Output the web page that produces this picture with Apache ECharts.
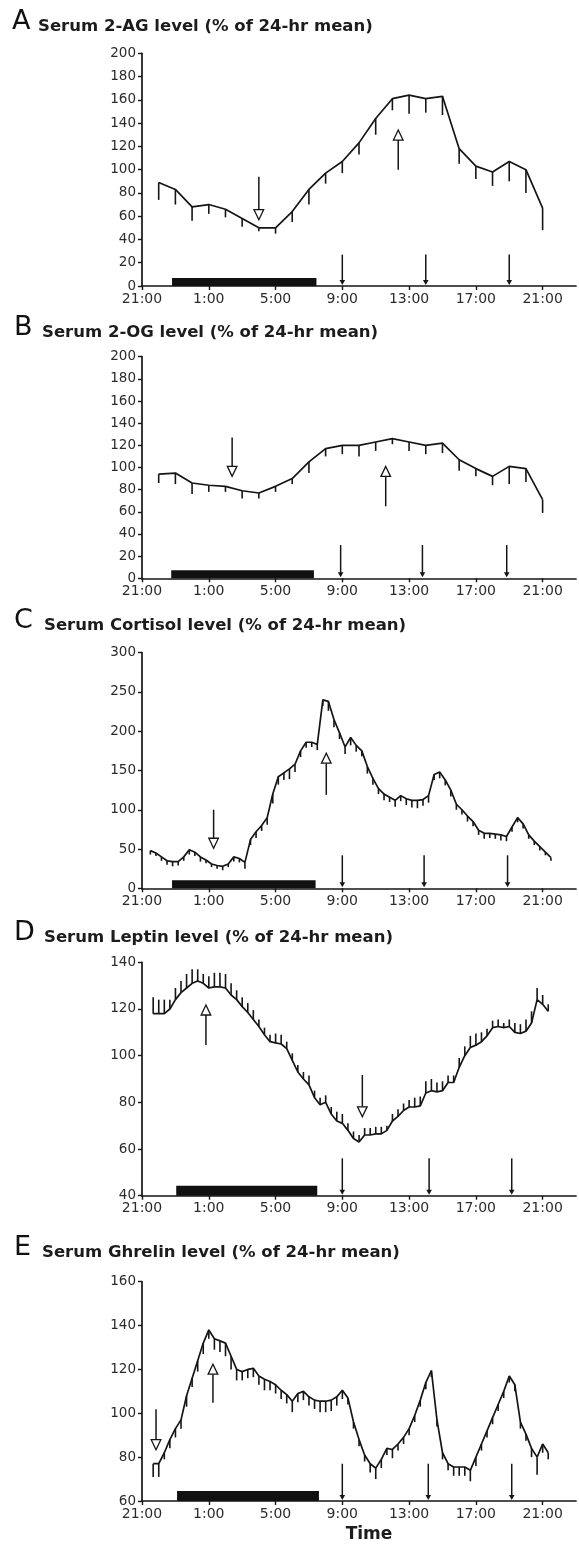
<!DOCTYPE html>
<html>
<head>
<meta charset="utf-8">
<script src="https://cdn.jsdelivr.net/npm/echarts@6/dist/echarts.min.js"></script>
<style>
  html, body { margin: 0; padding: 0; background: #ffffff; }
  #chart { width: 579px; height: 1547px; }
</style>
</head>
<body>
<div id="chart"></div>
<script>
// Time axis in hours after 21:00 on day 1 (24 = 21:00 on day 2)
const hourTicks = [0, 4, 8, 12, 16, 20, 24];
const clockLabels = ['21:00', '1:00', '5:00', '9:00', '13:00', '17:00', '21:00'];

// Hourly draws, 22:00 through 21:00
const hourlyTimes = [1, 2, 3, 4, 5, 6, 7, 8, 9, 10, 11, 12, 13, 14, 15, 16, 17, 18, 19, 20, 21, 22, 23, 24];

// A: 2-AG (% of 24-hr mean) and SEM
const agMean = [89, 83, 68, 70, 66, 58, 50, 50, 64, 83, 97, 107, 123, 144, 161, 164, 161, 163, 118, 103, 98, 107, 100, 67];
const agSem  = [15, 13, 12, 8, 7, 7, 3, 5, 9, 13, 9, 10, 10, 14, 10, 16, 12, 16, 13, 11, 12, 17, 20, 19];

// B: 2-OG
const ogMean = [94, 95, 86, 84, 83, 79, 77, 83, 90, 105, 117, 120, 120, 123, 126, 123, 120, 122, 107, 99, 92, 101, 99, 71];
const ogSem  = [8, 10, 10, 6, 5, 7, 5, 5, 5, 10, 7, 8, 10, 8, 5, 8, 8, 9, 10, 7, 8, 16, 12, 12];

// 20-minute draws: first sample time (hours after 21:00)
const cortisolStart = 0.5;
const leptinStart = 0.67;
const ghrelinStart = 0.67;

// C: cortisol
const cortisolMean = [48, 45, 40, 35, 34, 34, 40, 49, 46, 40, 36, 31, 29, 28, 31, 40, 38, 33, 62, 72,
  80, 90, 120, 142, 147, 152, 158, 175, 186, 186, 183, 240, 238, 215, 198, 180, 192, 182, 175, 155,
  140, 127, 120, 116, 112, 118, 114, 112, 112, 113, 118, 145, 148, 138, 125, 107, 100, 92, 85, 74,
  70, 70, 69, 68, 66, 78, 90, 82, 68, 60, 53, 46, 39];
const cortisolSem = [5, 4, 5, 5, 6, 5, 5, 6, 5, 6, 4, 4, 4, 5, 4, 6, 5, 8, 7, 8,
  7, 9, 12, 10, 9, 13, 10, 8, 7, 6, 7, 8, 12, 10, 8, 9, 10, 8, 7, 9,
  8, 7, 8, 6, 8, 7, 8, 9, 10, 8, 9, 7, 8, 7, 8, 7, 6, 7, 6, 6,
  7, 6, 6, 7, 6, 6, 6, 6, 5, 5, 5, 4, 4];

// D: leptin
const leptinMean = [118, 118, 118, 120, 124, 127, 129, 131, 132, 131, 129, 129.5, 129.5, 129, 126, 124, 121, 118.5, 115.5, 112.5,
  109, 106, 105.5, 105, 103, 98, 93, 90, 87.5, 82, 79, 80, 75, 72, 71, 68, 64.5, 63, 66, 66,
  66.5, 66.5, 68, 72, 74, 76.5, 78, 78, 78.5, 84, 85, 84.5, 85, 88.5, 88.5, 95, 100, 103.5, 104.5, 106,
  108.5, 112, 112.5, 112, 112.5, 110, 109.5, 110.5, 114, 124, 122, 119];
const leptinSem = [7, 6, 6, 4, 5, 5, 6, 6, 5, 4, 5, 6, 6, 6, 5, 4, 4, 4, 4, 3,
  3, 3, 4, 4, 3, 3, 3, 3, 4, 3, 3, 3, 3, 4, 4, 3, 3, 3, 3, 3,
  3, 3, 2, 3, 3, 3, 3, 4, 4, 5, 5, 4, 4, 3, 3, 4, 4, 5, 5, 4,
  3, 3, 3, 2, 3, 4, 4, 5, 5, 5, 4, 3];

// E: ghrelin
const ghrelinMean = [77, 77, 82, 88, 93, 97, 108, 116, 124, 132, 138, 134, 133, 132, 126, 120, 119, 120, 120.5, 117,
  115.5, 114.5, 113, 110.5, 108.5, 105.5, 109, 110, 107.5, 106, 105.5, 105.5, 106, 107.5, 110.5, 107, 96, 88, 81, 77,
  75, 79, 84, 83.5, 86, 89, 93, 99, 106, 114, 119.5, 97, 82, 77, 75.5, 75.5, 75.5, 74, 80, 86,
  92, 98, 104, 110, 117, 113, 96, 90.5, 84, 80, 86, 82];
const ghrelinSem = [6, 6, 3, 4, 4, 4, 5, 4, 5, 5, 4, 5, 5, 6, 6, 5, 4, 4, 4, 4,
  5, 4, 4, 4, 4, 5, 4, 4, 4, 4, 5, 5, 5, 4, 4, 3, 3, 3, 3, 4,
  5, 4, 3, 4, 3, 3, 3, 3, 3, 3, 3, 3, 3, 3, 4, 4, 4, 5, 4, 3,
  3, 3, 3, 3, 3, 3, 3, 3, 4, 8, 4, 3];

// Lights-off sleep period [start, end] in hours after 21:00
const sleepA = [1.8, 10.45];
const sleepB = [1.75, 10.3];
const sleepC = [1.8, 10.4];
const sleepD = [2.05, 10.5];
const sleepE = [2.1, 10.6];

// Meal times with the level where each meal arrow starts
const mealsA = [[12, 27], [17, 27], [22, 27]];
const mealsB = [[11.9, 30], [16.8, 30], [21.85, 30]];
const mealsC = [[12, 42], [16.9, 42], [21.9, 42]];
const mealsD = [[12, 56], [17.2, 56], [22.15, 56]];
const mealsE = [[12, 77], [17.15, 77], [22.15, 77]];

// Nadir / acrophase arrows: [time, tail level, tip level]
const markersA = [[7, 94, 57], [15.35, 100, 134]];
const markersB = [[5.4, 127, 92], [14.6, 65, 101]];
const markersC = [[4.29, 100, 51], [11.04, 119, 172]];
const markersD = [[3.83, 104.6, 121.7], [13.2, 91.7, 73.8]];
const markersE = [[0.84, 101.8, 83.4], [4.25, 104.8, 122.4]];

function twentyMinuteTimes(start, count) {
  const t = [];
  for (let i = 0; i < count; i++) t.push(start + i / 3);
  return t;
}

const INK = '#151515';
const FONT = 'DejaVu Sans';

const panels = [
  { letter: 'A', title: 'Serum 2-AG level (% of 24-hr mean)', times: hourlyTimes, mean: agMean, sem: agSem,
    dir: -1, yMin: 0, yMax: 200, yStep: 20, top: 53.3, height: 232.7, sleep: sleepA, meals: mealsA, markers: markersA,
    barPx: 8, letterX: 12, titleX: 38, base: 34.3 },
  { letter: 'B', title: 'Serum 2-OG level (% of 24-hr mean)', times: hourlyTimes, mean: ogMean, sem: ogSem,
    dir: -1, yMin: 0, yMax: 200, yStep: 20, top: 356.7, height: 221.6, sleep: sleepB, meals: mealsB, markers: markersB,
    barPx: 8, letterX: 14, titleX: 42, base: 340 },
  { letter: 'C', title: 'Serum Cortisol level (% of 24-hr mean)', times: twentyMinuteTimes(cortisolStart, cortisolMean.length),
    mean: cortisolMean, sem: cortisolSem, dir: -1, yMin: 0, yMax: 300, yStep: 50, top: 652.7, height: 235.6,
    sleep: sleepC, meals: mealsC, markers: markersC, barPx: 8, letterX: 14, titleX: 44, base: 633 },
  { letter: 'D', title: 'Serum Leptin level (% of 24-hr mean)', times: twentyMinuteTimes(leptinStart, leptinMean.length),
    mean: leptinMean, sem: leptinSem, dir: 1, yMin: 40, yMax: 140, yStep: 20, top: 962.3, height: 233.4,
    sleep: sleepD, meals: mealsD, markers: markersD, barPx: 10, letterX: 14, titleX: 44, base: 945 },
  { letter: 'E', title: 'Serum Ghrelin level (% of 24-hr mean)', times: twentyMinuteTimes(ghrelinStart, ghrelinMean.length),
    mean: ghrelinMean, sem: ghrelinSem, dir: -1, yMin: 60, yMax: 160, yStep: 20, top: 1281.7, height: 219.3,
    sleep: sleepE, meals: mealsE, markers: markersE, barPx: 10, letterX: 14, titleX: 42, base: 1260 }
];

const grid = [], xAxis = [], yAxis = [], series = [], graphic = [];

panels.forEach((p, i) => {
  grid.push({ left: 142, width: 434, top: p.top, height: p.height, containLabel: false });

  xAxis.push({
    gridIndex: i, type: 'value', min: 0, max: 26,
    axisLine: { show: true, onZero: false, lineStyle: { color: INK, width: 1.7 } },
    axisTick: { show: true, customValues: hourTicks, length: 4, lineStyle: { color: INK, width: 1.4 } },
    axisLabel: {
      show: true, customValues: hourTicks, margin: 6,
      formatter: v => clockLabels[hourTicks.indexOf(v)],
      fontFamily: FONT, fontSize: 14, color: '#2b2b2b'
    },
    splitLine: { show: false }
  });

  yAxis.push({
    gridIndex: i, type: 'value', min: p.yMin, max: p.yMax, interval: p.yStep,
    axisLine: { show: true, onZero: false, lineStyle: { color: INK, width: 1.7 } },
    axisTick: { show: true, length: 4, lineStyle: { color: INK, width: 1.4 } },
    axisLabel: { show: true, margin: 6, fontFamily: FONT, fontSize: 13.5, color: '#2b2b2b' },
    splitLine: { show: false }
  });

  const pts = p.times.map((t, k) => [t, p.mean[k], p.sem[k]]);

  // sleep period bar resting on the time axis
  series.push({
    type: 'custom', xAxisIndex: i, yAxisIndex: i, silent: true, z: 2,
    data: [[p.sleep[0], p.sleep[1]]],
    renderItem: (params, api) => {
      const a = api.coord([api.value(0), p.yMin]);
      const b = api.coord([api.value(1), p.yMin]);
      return { type: 'rect', shape: { x: a[0], y: a[1] - p.barPx, width: b[0] - a[0], height: p.barPx },
        style: { fill: '#111111' } };
    }
  });

  // one-sided SEM bars
  series.push({
    type: 'custom', xAxisIndex: i, yAxisIndex: i, silent: true, z: 3,
    data: pts,
    renderItem: (params, api) => {
      const x = api.value(0), y = api.value(1), s = api.value(2);
      const a = api.coord([x, y]);
      const b = api.coord([x, y + p.dir * s]);
      return { type: 'line', shape: { x1: a[0], y1: a[1], x2: b[0], y2: b[1] },
        style: { stroke: INK, lineWidth: 1.6 } };
    }
  });

  // mean profile
  series.push({
    type: 'line', xAxisIndex: i, yAxisIndex: i, silent: true, z: 4,
    data: pts.map(d => [d[0], d[1]]),
    symbol: 'none', lineStyle: { color: INK, width: 1.7 }
  });

  // meal arrows (filled heads) pointing to the axis
  series.push({
    type: 'custom', xAxisIndex: i, yAxisIndex: i, silent: true, z: 5,
    data: p.meals,
    renderItem: (params, api) => {
      const tail = api.coord([api.value(0), api.value(1)]);
      const tip = api.coord([api.value(0), p.yMin]);
      const hl = 6, hw = 2.8;
      return { type: 'group', children: [
        { type: 'line', shape: { x1: tail[0], y1: tail[1], x2: tip[0], y2: tip[1] - hl + 1 },
          style: { stroke: INK, lineWidth: 1.5 } },
        { type: 'polygon', shape: { points: [[tip[0], tip[1] - 1], [tip[0] - hw, tip[1] - hl], [tip[0] + hw, tip[1] - hl]] },
          style: { fill: INK } }
      ] };
    }
  });

  // open-headed arrows marking trough and peak
  series.push({
    type: 'custom', xAxisIndex: i, yAxisIndex: i, silent: true, z: 6,
    data: p.markers,
    renderItem: (params, api) => {
      const tail = api.coord([api.value(0), api.value(1)]);
      const tip = api.coord([api.value(0), api.value(2)]);
      const d = tip[1] > tail[1] ? 1 : -1;
      const hl = 10, hw = 4.8;
      const baseY = tip[1] - d * hl;
      return { type: 'group', children: [
        { type: 'line', shape: { x1: tail[0], y1: tail[1], x2: tip[0], y2: baseY },
          style: { stroke: INK, lineWidth: 1.5 } },
        { type: 'polygon', shape: { points: [[tip[0], tip[1]], [tip[0] - hw, baseY], [tip[0] + hw, baseY]] },
          style: { fill: '#ffffff', stroke: INK, lineWidth: 1.3 } }
      ] };
    }
  });

  // panel letter and heading
  graphic.push({ type: 'text', x: p.letterX, y: p.base + 1, silent: true,
    style: { text: p.letter, font: `27px "${FONT}"`, fill: '#111', verticalAlign: 'bottom' } });
  graphic.push({ type: 'text', x: p.titleX, y: p.base + 1, silent: true,
    style: { text: p.title, font: `bold 16.5px "${FONT}"`, fill: '#1c1c1c', verticalAlign: 'bottom' } });
});

graphic.push({ type: 'text', x: 369, y: 1535, silent: true,
  style: { text: 'Time', font: `bold 17px "${FONT}"`, fill: '#1c1c1c', align: 'center', verticalAlign: 'middle' } });

const chart = echarts.init(document.getElementById('chart'), null, { renderer: 'canvas' });
chart.setOption({
  animation: false,
  backgroundColor: '#ffffff',
  grid, xAxis, yAxis, series, graphic
});
</script>
</body>
</html>
